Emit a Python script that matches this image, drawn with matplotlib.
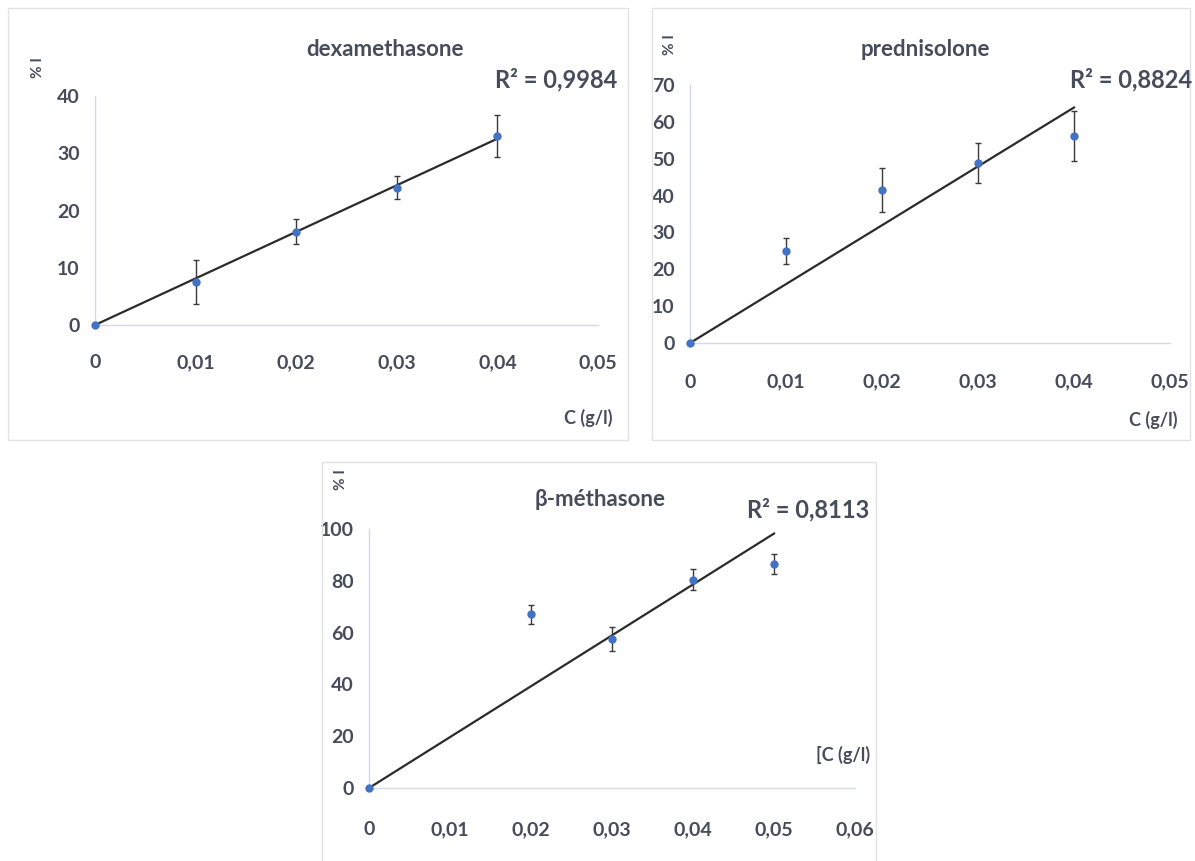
import numpy as np
import matplotlib
matplotlib.use("Agg")
import matplotlib.pyplot as plt
from matplotlib.patches import Rectangle

# données
dexa_c = [0, 0.01, 0.02, 0.03, 0.04]
dexa_i = [0, 7.5, 16.3, 24.0, 33.0]
dexa_err = [0, 3.8, 2.2, 2.0, 3.7]

pred_c = [0, 0.01, 0.02, 0.03, 0.04]
pred_i = [0, 25.0, 41.5, 48.8, 56.2]
pred_err = [0, 3.5, 6.0, 5.5, 6.7]

beta_c = [0, 0.02, 0.03, 0.04, 0.05]
beta_i = [0, 67.0, 57.5, 80.5, 86.5]
beta_err = [0, 3.5, 4.5, 4.0, 4.0]

titles = ["dexamethasone", "prednisolone", "β-méthasone"]
r2_labels = ["R² = 0,9984", "R² = 0,8824", "R² = 0,8113"]
xlabels = ["C (g/l)", "C (g/l)", "[C (g/l)"]

x_ticks_5 = [0, 0.01, 0.02, 0.03, 0.04, 0.05]
x_labels_5 = ["0", "0,01", "0,02", "0,03", "0,04", "0,05"]
x_ticks_6 = [0, 0.01, 0.02, 0.03, 0.04, 0.05, 0.06]
x_labels_6 = ["0", "0,01", "0,02", "0,03", "0,04", "0,05", "0,06"]
y_ticks_1 = [0, 10, 20, 30, 40]
y_ticks_2 = [0, 10, 20, 30, 40, 50, 60, 70]
y_ticks_3 = [0, 20, 40, 60, 80, 100]

W, H = 1195, 861
fig = plt.figure(figsize=(W / 100, H / 100), dpi=100)
plt.rcParams['font.family'] = ['Lato', 'DejaVu Sans']

txt_col = '#474c5a'
axis_col = '#d3d9e6'


def fx(x):
    return x / W


def fy(y):
    return 1 - y / H


def panel(box, rect, c, v, err, xt, xl, yt, title, r2, xlab, title_pos, r2_pos, xlab_pos, pi_pos, xpad):
    # cadre du graphique
    x0, y0, x1, y1 = box
    fig.patches.append(Rectangle((fx(x0), fy(y1)), fx(x1 - x0), (y1 - y0) / H,
                                 transform=fig.transFigure, fill=False,
                                 edgecolor='#e3e3e3', linewidth=1))
    l, t, r, b = rect
    ax = fig.add_axes([fx(l), fy(b), fx(r - l), (b - t) / H])
    ax.set_xlim(xt[0], xt[-1])
    ax.set_ylim(yt[0], yt[-1])
    for s in ['top', 'right']:
        ax.spines[s].set_visible(False)
    for s in ['left', 'bottom']:
        ax.spines[s].set_color(axis_col)
        ax.spines[s].set_linewidth(1)
    ax.set_xticks(xt)
    ax.set_xticklabels(xl)
    ax.set_yticks(yt)
    ax.tick_params(length=0, labelsize=14, labelcolor=txt_col)
    ax.tick_params(axis='x', pad=xpad)
    ax.tick_params(axis='y', pad=11)
    for lab in ax.get_xticklabels() + ax.get_yticklabels():
        lab.set_fontweight('bold')

    # courbe de tendance (passant par l'origine)
    c = np.array(c)
    v = np.array(v)
    slope = np.sum(c * v) / np.sum(c * c)
    xs = np.array([0, c.max()])
    ax.plot(xs, slope * xs, color='#2b2b2b', linewidth=1.6, zorder=2)

    ax.errorbar(c, v, yerr=err, fmt='o', color='#4472c4', markersize=5,
                ecolor='#3a3a3a', elinewidth=1, capsize=2.5, capthick=1,
                zorder=3, clip_on=False)

    fig.text(fx(title_pos[0]), fy(title_pos[1]), title, ha='center', va='center',
             fontsize=16, fontweight='bold', color=txt_col)
    fig.text(fx(r2_pos[0]), fy(r2_pos[1]), r2, ha='center', va='center',
             fontsize=17, fontweight='bold', color=txt_col)
    fig.text(fx(xlab_pos[0]), fy(xlab_pos[1]), xlab, ha='center', va='center',
             fontsize=13, fontweight='bold', color=txt_col)
    fig.text(fx(pi_pos[0]), fy(pi_pos[1]), "% I", ha='center', va='center',
             fontsize=11, fontweight='bold', color=txt_col, rotation=90)
    return ax


panel((8, 8, 628, 440), (95, 96, 598, 325), dexa_c, dexa_i, dexa_err,
      x_ticks_5, x_labels_5, y_ticks_1, titles[0], r2_labels[0], xlabels[0],
      (385, 50), (556, 80), (588, 418), (38, 68), 21)

panel((652, 8, 1190, 440), (690, 85, 1170, 343), pred_c, pred_i, pred_err,
      x_ticks_5, x_labels_5, y_ticks_2, titles[1], r2_labels[1], xlabels[1],
      (925, 50), (1131, 80), (1153, 420), (670, 45), 22)

panel((322, 462, 876, 868), (369, 529, 855, 788), beta_c, beta_i, beta_err,
      x_ticks_6, x_labels_6, y_ticks_3, titles[2], r2_labels[2], xlabels[2],
      (600, 500), (808, 510), (843, 755), (341, 480), 24)

fig.savefig("out.png", dpi=100)
